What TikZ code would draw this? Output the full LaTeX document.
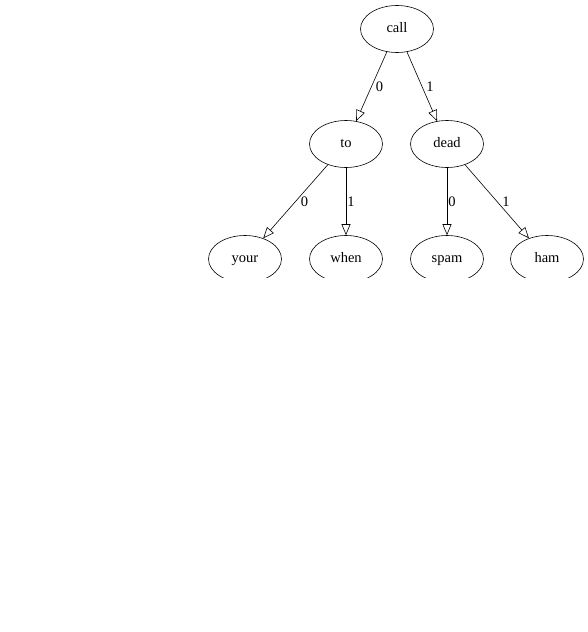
\documentclass[tikz,border=0pt]{standalone}
\usepackage{fontspec}
\setmainfont{Liberation Serif}
\usetikzlibrary{shapes.geometric,arrows.meta}
\tikzset{
  tnode/.style={ellipse, draw, line width=0.6pt, minimum width=73pt, minimum height=47pt, inner sep=0pt, text height=9pt, text depth=3pt, font=\fontsize{14.5}{14.5}\selectfont},
  tedge/.style={draw, line width=0.6pt, -{Triangle[open, length=11pt, width=9pt]}},
  elabel/.style={font=\fontsize{14.5}{14.5}\selectfont, inner sep=1pt}
}
\begin{document}
\begin{tikzpicture}[x=1pt,y=-1pt]
\useasboundingbox (0,0) rectangle (588,632);
\begin{scope}
\clip (0,0) rectangle (588,277);
\node[tnode] (call) at (397,29) {call};
\node[tnode] (to) at (346,144) {to};
\node[tnode] (dead) at (447,144) {dead};
\node[tnode] (your) at (245,259) {your};
\node[tnode] (when) at (346,259) {when};
\node[tnode] (spam) at (447,259) {spam};
\node[tnode] (ham) at (547,259) {ham};
\draw[tedge] (call) -- node[elabel, right=3pt] {0} (to);
\draw[tedge] (call) -- node[elabel, right=3pt] {1} (dead);
\draw[tedge] (to) -- node[elabel, right=4pt] {0} (your);
\draw[tedge] (to) -- node[elabel, right=0pt] {1} (when);
\draw[tedge] (dead) -- node[elabel, right=0pt] {0} (spam);
\draw[tedge] (dead) -- node[elabel, right=4pt] {1} (ham);
\end{scope}
\end{tikzpicture}
\end{document}
